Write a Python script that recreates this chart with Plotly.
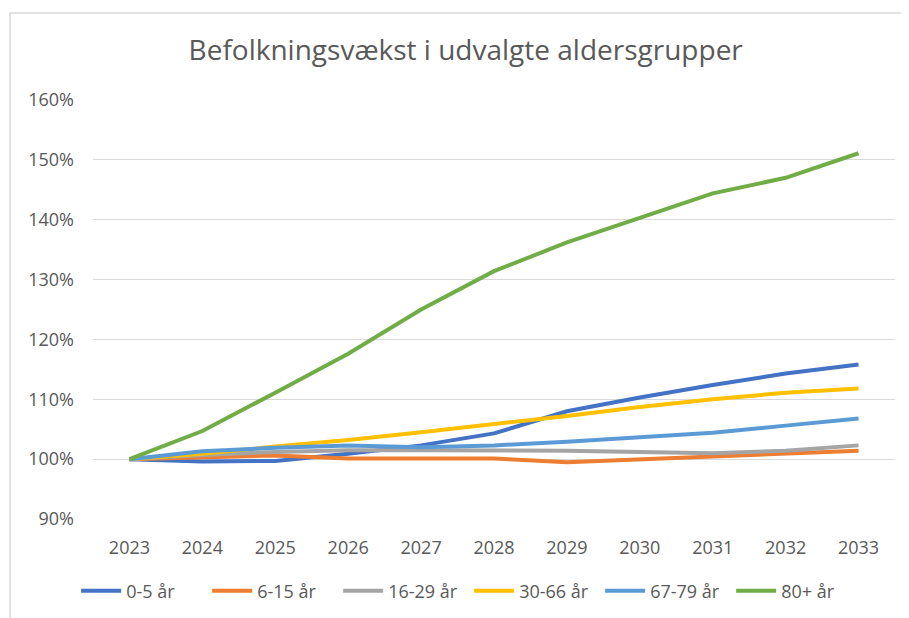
import plotly.graph_objects as go

years = ["2023", "2024", "2025", "2026", "2027", "2028", "2029", "2030", "2031", "2032", "2033"]
series_names = ["0-5 år", "6-15 år", "16-29 år", "30-66 år", "67-79 år", "80+ år"]
age_0_5 = [100, 99.6, 99.7, 100.9, 102.3, 104.3, 108.0, 110.3, 112.4, 114.3, 115.8]
age_6_15 = [100, 100.3, 100.6, 100.1, 100.1, 100.1, 99.5, 100.0, 100.5, 100.9, 101.4]
age_16_29 = [100, 100.7, 101.2, 101.5, 101.5, 101.5, 101.4, 101.2, 101.0, 101.4, 102.3]
age_30_66 = [100, 100.9, 102.1, 103.2, 104.5, 105.8, 107.2, 108.7, 110.0, 111.1, 111.8]
age_67_79 = [100, 101.3, 101.9, 102.3, 102.0, 102.3, 102.9, 103.6, 104.4, 105.6, 106.8]
age_80p = [100, 104.7, 111.1, 117.6, 125.0, 131.4, 136.2, 140.3, 144.4, 147.0, 151.1]
y_ticks = [90, 100, 110, 120, 130, 140, 150, 160]
y_tick_labels = ["90%", "100%", "110%", "120%", "130%", "140%", "150%", "160%"]

colors = ["#4472C4", "#ED7D31", "#A5A5A5", "#FFC000", "#5B9BD5", "#70AD47"]
all_series = [age_0_5, age_6_15, age_16_29, age_30_66, age_67_79, age_80p]

FONT = "Open Sans"
TXT = "#595959"

fig = go.Figure()
for name, vals, col in zip(series_names, all_series, colors):
    fig.add_trace(go.Scatter(
        x=years, y=vals, name=name, mode="lines",
        line=dict(color=col, width=4),
    ))

fig.update_layout(
    width=901, height=610,
    margin=dict(l=85, r=14, t=92, b=99, autoexpand=False),
    paper_bgcolor="white", plot_bgcolor="white",
    title=dict(text="Befolkningsvækst i udvalgte aldersgrupper",
               x=0.508, xanchor="center", y=0.931, yanchor="middle",
               font=dict(family=FONT, size=28, color=TXT)),
    showlegend=True,
    legend=dict(orientation="h", x=0.469, xanchor="center", y=-0.172, yanchor="middle",
                font=dict(family=FONT, size=18, color=TXT), itemwidth=40,
                entrywidth=76, entrywidthmode="pixels",
                bgcolor="rgba(0,0,0,0)"),
    font=dict(family=FONT, size=18, color=TXT),
)
fig.update_xaxes(
    type="category", range=[-0.5, 10.5], showgrid=False, zeroline=False,
    showline=False, ticks="", ticklabelstandoff=16,
    tickfont=dict(family=FONT, size=18, color=TXT),
)
fig.update_yaxes(
    range=[90, 160], tickvals=y_ticks, ticktext=y_tick_labels,
    showgrid=True, gridcolor="#D9D9D9", gridwidth=1.3,
    zeroline=False, showline=False, ticks="", ticklabelstandoff=18,
    tickfont=dict(family=FONT, size=18, color=TXT),
)
fig.add_shape(type="rect", xref="paper", yref="paper",
              x0=-0.1035, x1=1.3, y0=-0.6, y1=1.2076,
              line=dict(color="#D9D9D9", width=1.5), fillcolor="rgba(0,0,0,0)",
              layer="below")

fig.write_html("out.html")
